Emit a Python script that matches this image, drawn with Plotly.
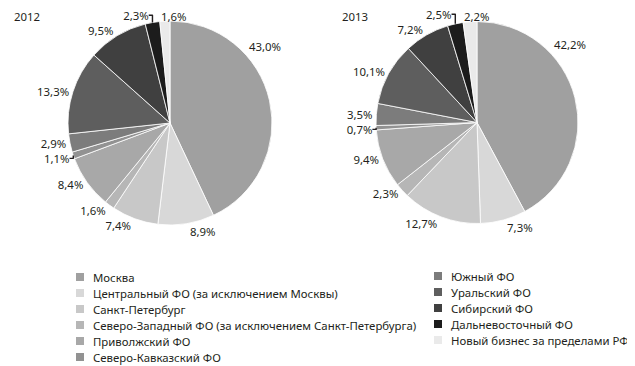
import math
import plotly.graph_objects as go

regions = ["Москва", "Центральный ФО (за исключением Москвы)", "Санкт-Петербург",
           "Северо-Западный ФО (за исключением Санкт-Петербурга)", "Приволжский ФО",
           "Северо-Кавказский ФО", "Южный ФО", "Уральский ФО", "Сибирский ФО",
           "Дальневосточный ФО", "Новый бизнес за пределами РФ"]
share_2012 = [43.0, 8.9, 7.4, 1.6, 8.4, 1.1, 2.9, 13.3, 9.5, 2.3, 1.6]
share_2013 = [42.2, 7.3, 12.7, 2.3, 9.4, 0.7, 3.5, 10.1, 7.2, 2.5, 2.2]
years = ["2012", "2013"]

colors = ["#a0a0a0", "#d8d8d8", "#c8c8c8", "#b6b6b6", "#a8a8a8", "#929292",
          "#7c7c7c", "#5e5e5e", "#404040", "#1c1c1c", "#eaeaea"]
FONT = "Noto Sans"
TXT = "#231f20"
W, H = 635, 366
OFF = 8  # page body margin

def fx(px):
    return (px - OFF) / W

def fy(py):
    return 1 - (py - OFF) / H

def fmt(v):
    return f"{v:.1f}".replace(".", ",") + "%"

# pie boxes in page pixels: (left, right, top, bottom)
boxes = [(68, 272, 21, 225), (376, 578, 21, 224)]
TOP_LABEL_Y = 16.5  # keep the top labels inside the page

fig = go.Figure()
for vals, (l, r_, t, b) in zip([share_2012, share_2013], boxes):
    n = len(vals)
    tpos = ["none"] + ["outside"] * (n - 2) + ["none"]
    fig.add_trace(go.Pie(
        labels=regions, values=vals, text=[fmt(v) for v in vals],
        textinfo="text", textposition=tpos, sort=False,
        direction="clockwise", rotation=0,
        domain=dict(x=[fx(l), fx(r_)], y=[fy(b), fy(t)]), showlegend=False,
        marker=dict(colors=colors, line=dict(color="white", width=0.8)),
        textfont=dict(family=FONT, size=11.4, color=TXT),
        hoverinfo="label+text"))

    cx, cy = (l + r_) / 2, (t + b) / 2
    rad = min(r_ - l, b - t) / 2
    total = sum(vals)

    # label of the large first slice, placed along its arc
    a = math.radians(0.33 * 360 * vals[0] / total)
    px, py = cx + (rad + 20) * math.sin(a), cy - (rad + 20) * math.cos(a)
    fig.add_annotation(text=fmt(vals[0]), x=fx(px), y=fy(py), xref="paper", yref="paper",
                       xanchor="center", yanchor="middle", showarrow=False,
                       font=dict(family=FONT, size=11.4, color=TXT))

    # label of the thin last slice, starting above its leading edge
    a = math.radians(360 * (1 - vals[-1] / total))
    dist = (cy - TOP_LABEL_Y) / math.cos(a)
    px, py = cx + dist * math.sin(a), cy - dist * math.cos(a)
    fig.add_annotation(text=fmt(vals[-1]), x=fx(px), y=fy(py), xref="paper", yref="paper",
                       xanchor="left", yanchor="middle", showarrow=False,
                       font=dict(family=FONT, size=11.4, color=TXT))

for yr, xp, yp in zip(years, [12, 340], [16.5, 16.5]):
    fig.add_annotation(text=yr, x=fx(xp), y=fy(yp), xref="paper", yref="paper",
                       xanchor="left", yanchor="middle", showarrow=False,
                       font=dict(family=FONT, size=11.4, color=TXT))

col_split = 6
for i, (name, c) in enumerate(zip(regions, colors)):
    if i < col_split:
        mx, row, y0 = 76, i, 277
    else:
        mx, row, y0 = 434, i - col_split, 276
    yc = y0 + row * 16
    fig.add_shape(type="rect", xref="paper", yref="paper",
                  x0=fx(mx), x1=fx(mx + 8), y0=fy(yc + 4), y1=fy(yc - 4),
                  fillcolor=c, line=dict(width=0))
    fig.add_annotation(text=name, x=fx(mx + 15), y=fy(yc), xref="paper", yref="paper",
                       xanchor="left", yanchor="middle", showarrow=False,
                       font=dict(family=FONT, size=11.4, color=TXT))

fig.update_layout(width=W, height=H, margin=dict(l=0, r=0, t=0, b=0, autoexpand=False),
                  paper_bgcolor="white", plot_bgcolor="white")
fig.write_html("out.html")
